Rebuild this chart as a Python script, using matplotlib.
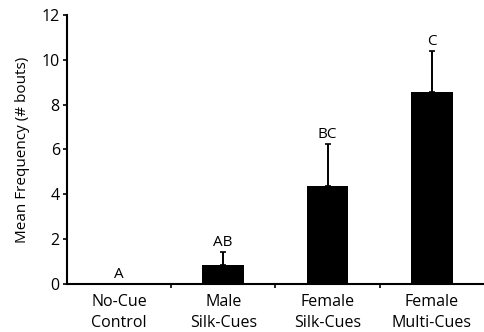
import matplotlib
matplotlib.use('Agg')
import matplotlib.pyplot as plt
import numpy as np

plt.rcParams.update({
    'font.family': ['Open Sans', 'DejaVu Sans'],
    'font.size': 11.5,
})

categories = ['No-Cue\nControl', 'Male\nSilk-Cues', 'Female\nSilk-Cues', 'Female\nMulti-Cues']
means = [0.0, 0.85, 4.38, 8.54]
upper_err = [0.0, 0.58, 1.87, 1.83]
letters = ['A', 'AB', 'BC', 'C']

fig = plt.figure(figsize=(4.84, 3.32), dpi=100)
ax = fig.add_axes([0.138, 0.145, 0.862, 0.81])

x = np.arange(len(categories))
ax.bar(x, means, width=0.4, color='black', zorder=2)
ax.errorbar(x[1:], means[1:], yerr=[np.zeros(3), upper_err[1:]], fmt='none',
            ecolor='black', elinewidth=1.4, capsize=2.5, capthick=1.2, zorder=3)

for xi, m, e, lab in zip(x, means, upper_err, letters):
    ax.text(xi, m + e + 0.1, lab, ha='center', va='bottom', fontsize=11)

ax.set_xlim(-0.5, 3.5)
ax.set_ylim(0, 12)
ax.set_yticks(range(0, 13, 2))
ax.set_xticks(x)
ax.set_xticklabels(categories, linespacing=1.45)
ax.set_xticks([0.5, 1.5, 2.5], minor=True)
ax.tick_params(axis='x', which='major', length=0, pad=7)
ax.tick_params(axis='x', which='minor', length=3, width=1.2, direction='out')
ax.tick_params(axis='y', length=3, width=1.2, direction='out', pad=2)
ax.set_ylabel('Mean Frequency (# bouts)', labelpad=8, fontsize=11)

for s in ['top', 'right']:
    ax.spines[s].set_visible(False)
for s in ['left', 'bottom']:
    ax.spines[s].set_linewidth(1.5)

fig.savefig('out.png', dpi=100, facecolor='white')
